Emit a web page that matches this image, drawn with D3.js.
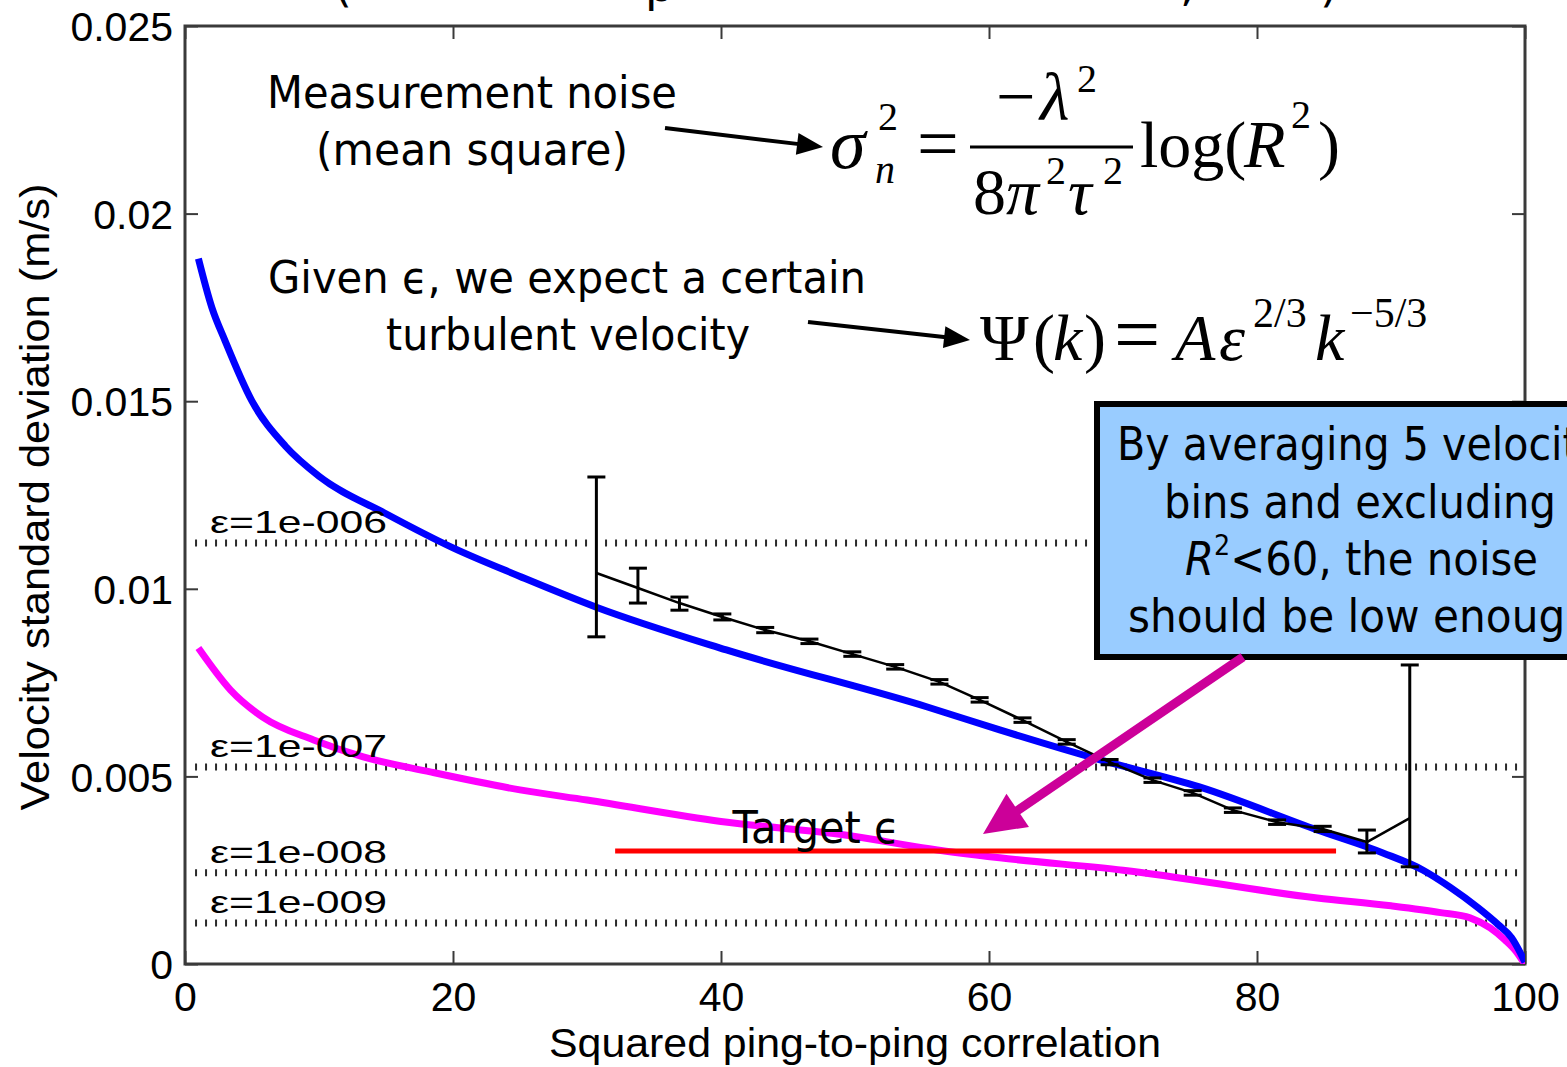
<!DOCTYPE html>
<html>
<head>
<meta charset="utf-8">
<script src="https://cdn.jsdelivr.net/npm/d3@7"></script>
<style>
  body { margin: 0; background: #fff; }
  svg { display: block; }
</style>
</head>
<body>
<svg id="chart" width="1567" height="1067"></svg>
<script>
// ---------- data ----------
const xTicks = [0, 20, 40, 60, 80, 100];
const yTicks = [0, 0.005, 0.01, 0.015, 0.02, 0.025];
const yTickLabels = ["0", "0.005", "0.01", "0.015", "0.02", "0.025"];

// noise-only standard deviation vs. R^2 (blue)
const noiseX = [1, 2, 3, 5, 7.5, 10, 15, 20, 25, 30.7, 40.4, 55.4, 60.8, 68.3, 75.7, 84.5, 89.4, 92.4, 94.4, 96.5, 98, 99, 100];
const noiseV = [0.0188, 0.0175, 0.0166, 0.0150, 0.0138, 0.0130, 0.0120, 0.01109, 0.01033, 0.00951, 0.00837, 0.00685, 0.00624, 0.00544, 0.00472, 0.00357, 0.00296, 0.0025, 0.00205, 0.0015, 0.00105, 0.0007, 0.00005];

// second noise curve (magenta)
const lowX = [1, 3.4, 5.8, 9.6, 13.3, 18.3, 25, 30, 40, 50, 55, 60.8, 70, 84.5, 90, 93.7, 95.9, 97.4, 98.5, 99.3, 99.8, 100];
const lowV = [0.00842, 0.0073, 0.00658, 0.00597, 0.00552, 0.00512, 0.00464, 0.00437, 0.0038, 0.0034, 0.0031, 0.00283, 0.0025, 0.00176, 0.00155, 0.00137, 0.00123, 0.00096, 0.00064, 0.00035, 0.0001, 0];

// binned observed standard deviation with error bars (black)
const binX = [30.7, 33.8, 36.9, 40.1, 43.3, 46.6, 49.8, 53.0, 56.3, 59.3, 62.5, 65.8, 69.0, 72.2, 75.2, 78.2, 81.5, 84.9, 88.2, 91.4];
const binV = [0.01042, 0.01002, 0.00962, 0.00925, 0.0089, 0.0086, 0.00826, 0.00792, 0.00752, 0.00704, 0.0065, 0.00592, 0.00538, 0.0049, 0.00456, 0.0041, 0.00378, 0.0036, 0.00325, 0.00389];
const binHigh = [0.01298, 0.01055, 0.00978, 0.00933, 0.00897, 0.00866, 0.00832, 0.00798, 0.00758, 0.0071, 0.00656, 0.00598, 0.00545, 0.00496, 0.00462, 0.00416, 0.00384, 0.00367, 0.00357, 0.00797];
const binLow = [0.00872, 0.00962, 0.00943, 0.00917, 0.00883, 0.00854, 0.0082, 0.00786, 0.00746, 0.00698, 0.00644, 0.00586, 0.00531, 0.00484, 0.0045, 0.00404, 0.00372, 0.00353, 0.00296, 0.00259];

// expected turbulent velocity levels for several dissipation rates
const epsLabels = ["1e-006", "1e-007", "1e-008", "1e-009"];
const epsV = [0.01122, 0.00525, 0.00243, 0.00109];
const epsStartX = 0.75;

// target dissipation level
const targetX = [32.1, 85.9];
const targetV = 0.00301;

// ---------- layout ----------
const svg = d3.select("#chart");
const x = d3.scaleLinear().domain([0, 100]).range([185, 1525]);
const y = d3.scaleLinear().domain([0, 0.025]).range([964, 26]);
const axisColor = "#3a3a3a";
const sans = "'Liberation Sans', Arial, sans-serif";
const tahoma = "'DejaVu Sans', Verdana, sans-serif";
const serif = "'Liberation Serif', 'Times New Roman', serif";

svg.append("defs").append("clipPath").attr("id", "plot")
  .append("rect").attr("x", 185).attr("y", 26).attr("width", 1340).attr("height", 938);

// partial title line running off the top edge
const titleGlyphs = [["(", 334], ["p", 645], [",", 1180], [")", 1320]];
svg.append("g").selectAll("text").data(titleGlyphs).join("text")
  .attr("x", d => d[1]).attr("y", 1)
  .attr("font-family", tahoma).attr("font-size", 46)
  .text(d => d[0]);

// ---------- axes ----------
const tick = 13;
const gx = svg.append("g").attr("transform", `translate(0,${y(0)})`)
  .call(d3.axisBottom(x).tickValues(xTicks).tickSizeInner(-tick).tickSizeOuter(0).tickPadding(18).tickFormat(d3.format("d")));
const gxTop = svg.append("g").attr("transform", `translate(0,${y(0.025)})`)
  .call(d3.axisTop(x).tickValues(xTicks).tickSizeInner(-tick).tickSizeOuter(0).tickFormat(""));
const gy = svg.append("g").attr("transform", `translate(${x(0)},0)`)
  .call(d3.axisLeft(y).tickValues(yTicks).tickSizeInner(-tick).tickSizeOuter(0).tickPadding(12)
    .tickFormat((d, i) => yTickLabels[i]));
const gyR = svg.append("g").attr("transform", `translate(${x(100)},0)`)
  .call(d3.axisRight(y).tickValues(yTicks).tickSizeInner(-tick).tickSizeOuter(0).tickFormat(""));
[gx, gxTop, gy, gyR].forEach(g => {
  g.select(".domain").remove();
  g.selectAll(".tick line").attr("stroke", axisColor).attr("stroke-width", 2);
  g.selectAll("text").attr("font-family", sans).attr("font-size", 41).attr("fill", "#000");
});
gx.selectAll("text").attr("dy", "0.71em");
gy.selectAll("text").attr("dy", "0.36em");

svg.append("rect").attr("x", x(0)).attr("y", y(0.025))
  .attr("width", x(100) - x(0)).attr("height", y(0) - y(0.025))
  .attr("fill", "none").attr("stroke", axisColor).attr("stroke-width", 3);

svg.append("text").attr("x", 855).attr("y", 1057).attr("text-anchor", "middle")
  .attr("font-family", sans).attr("font-size", 41)
  .attr("textLength", 612).attr("lengthAdjust", "spacingAndGlyphs")
  .text("Squared ping-to-ping correlation");
svg.append("text").attr("transform", "translate(49,497) rotate(-90)").attr("text-anchor", "middle")
  .attr("font-family", sans).attr("font-size", 41)
  .attr("textLength", 627).attr("lengthAdjust", "spacingAndGlyphs")
  .text("Velocity standard deviation (m/s)");

// ---------- plot contents ----------
const plot = svg.append("g").attr("clip-path", "url(#plot)");

// dotted reference levels
plot.selectAll("line.eps").data(epsV).join("line").attr("class", "eps")
  .attr("x1", x(epsStartX)).attr("x2", x(100))
  .attr("y1", d => y(d)).attr("y2", d => y(d))
  .attr("stroke", "#2a2a2a").attr("stroke-width", 7).attr("stroke-dasharray", "2 8");

const line = d3.line().x(d => x(d[0])).y(d => y(d[1])).curve(d3.curveMonotoneX);

plot.append("path").datum(lowX.map((v, i) => [v, lowV[i]]))
  .attr("d", line).attr("fill", "none").attr("stroke", "#ff00ff").attr("stroke-width", 7);
plot.append("path").datum(noiseX.map((v, i) => [v, noiseV[i]]))
  .attr("d", line).attr("fill", "none").attr("stroke", "#0000ff").attr("stroke-width", 7);

// error bars and the connecting line
const bins = binX.map((v, i) => ({ x: v, v: binV[i], lo: binLow[i], hi: binHigh[i] }));
plot.append("path").datum(bins)
  .attr("d", d3.line().x(d => x(d.x)).y(d => y(d.v)))
  .attr("fill", "none").attr("stroke", "#000").attr("stroke-width", 2.5);
const eb = plot.append("g").attr("stroke", "#000").attr("stroke-width", 3);
const cap = 9;
eb.selectAll("line.v").data(bins).join("line").attr("class", "v")
  .attr("x1", d => x(d.x)).attr("x2", d => x(d.x)).attr("y1", d => y(d.lo)).attr("y2", d => y(d.hi));
eb.selectAll("line.hi").data(bins).join("line").attr("class", "hi")
  .attr("x1", d => x(d.x) - cap).attr("x2", d => x(d.x) + cap).attr("y1", d => y(d.hi)).attr("y2", d => y(d.hi));
eb.selectAll("line.lo").data(bins).join("line").attr("class", "lo")
  .attr("x1", d => x(d.x) - cap).attr("x2", d => x(d.x) + cap).attr("y1", d => y(d.lo)).attr("y2", d => y(d.lo));

// target level
plot.append("line").attr("x1", x(targetX[0])).attr("x2", x(targetX[1]))
  .attr("y1", y(targetV)).attr("y2", y(targetV))
  .attr("stroke", "#ff0000").attr("stroke-width", 5);

// level labels
svg.selectAll("text.eps").data(epsV).join("text").attr("class", "eps")
  .attr("x", 210).attr("y", d => y(d) - 10)
  .attr("font-family", sans).attr("font-size", 32)
  .attr("textLength", 177).attr("lengthAdjust", "spacingAndGlyphs")
  .text((d, i) => "\u03b5=" + epsLabels[i]);

// ---------- annotations ----------
function label(txt, cx, base, size, len, family) {
  return svg.append("text").attr("x", cx).attr("y", base).attr("text-anchor", "middle")
    .attr("font-family", family || tahoma).attr("font-size", size)
    .attr("textLength", len).attr("lengthAdjust", "spacingAndGlyphs").text(txt);
}
label("Measurement noise", 472, 108, 45, 410);
label("(mean square)", 472, 165, 45, 312);
label("Given \u03f5, we expect a certain", 567, 293, 45, 598);
label("turbulent velocity", 568, 350, 45, 364);
label("Target \u03f5", 816, 843, 44, 167);

function arrow(x1, y1, x2, y2, color, w, hl, hw) {
  const a = Math.atan2(y2 - y1, x2 - x1);
  const bx = x2 - hl * Math.cos(a), by = y2 - hl * Math.sin(a);
  const g = svg.append("g");
  g.append("line").attr("x1", x1).attr("y1", y1).attr("x2", bx + 2 * Math.cos(a)).attr("y2", by + 2 * Math.sin(a))
    .attr("stroke", color).attr("stroke-width", w);
  const px = -Math.sin(a) * hw / 2, py = Math.cos(a) * hw / 2;
  g.append("polygon").attr("points", `${x2},${y2} ${bx + px},${by + py} ${bx - px},${by - py}`).attr("fill", color);
}
arrow(665, 128, 823, 147, "#000", 4, 26, 22);
arrow(808, 322, 970, 340, "#000", 4, 26, 22);

// equation pieces
function sym(txt, px, py, size, italic) {
  return svg.append("text").attr("x", px).attr("y", py)
    .attr("font-family", serif).attr("font-size", size)
    .attr("font-style", italic ? "italic" : "normal").text(txt);
}
sym("\u03c3", 830, 168, 72, true);
sym("2", 878, 130, 40);
sym("n", 875, 183, 40, true);
sym("=", 917, 168, 74);
sym("\u2212", 996, 120, 70);
sym("\u03bb", 1040, 120, 68, true);
sym("2", 1077, 92, 40);
svg.append("line").attr("x1", 970).attr("x2", 1133).attr("y1", 147).attr("y2", 147)
  .attr("stroke", "#000").attr("stroke-width", 3);
sym("8", 973, 214, 66);
sym("\u03c0", 1006, 214, 66, true);
sym("2", 1046, 184, 40);
sym("\u03c4", 1068, 214, 66, true);
sym("2", 1103, 184, 40);
sym("log(", 1140, 167, 66);
sym("R", 1244, 167, 68, true);
sym("2", 1291, 128, 40);
sym(")", 1318, 167, 66);

sym("\u03a8", 980, 360, 66);
sym("(", 1033, 360, 66);
sym("k", 1053, 360, 66, true);
sym(")", 1084, 360, 66);
sym("=", 1114, 362, 82);
sym("A", 1175, 360, 66, true);
sym("\u03b5", 1219, 360, 66, true);
sym("2/3", 1253, 327, 42);
sym("k", 1315, 360, 66, true);
sym("\u22125/3", 1350, 327, 42);

// callout box
svg.append("rect").attr("x", 1097).attr("y", 404).attr("width", 530).attr("height", 253)
  .attr("fill", "#99ccff").attr("stroke", "#000").attr("stroke-width", 6);
const boxLines = [
  ["By averaging 5 velocity", 460, 486],
  ["bins and excluding", 518, 392],
  ["should be low enough", 632, 464]
];
boxLines.forEach(([t, b, len]) => label(t, 1360, b, 46, len));
const r2 = svg.append("text").attr("x", 1185).attr("y", 575)
  .attr("font-family", tahoma).attr("font-size", 46)
  .attr("textLength", 353).attr("lengthAdjust", "spacingAndGlyphs");
r2.append("tspan").attr("font-style", "italic").text("R");
r2.append("tspan").attr("font-size", 28).attr("dy", -20).text("2");
r2.append("tspan").attr("dy", 20).text("<60, the noise");

// arrow pointing from the box down to the target level
arrow(1243, 657, 983, 834, "#cc0099", 9, 42, 40);
</script>
</body>
</html>
